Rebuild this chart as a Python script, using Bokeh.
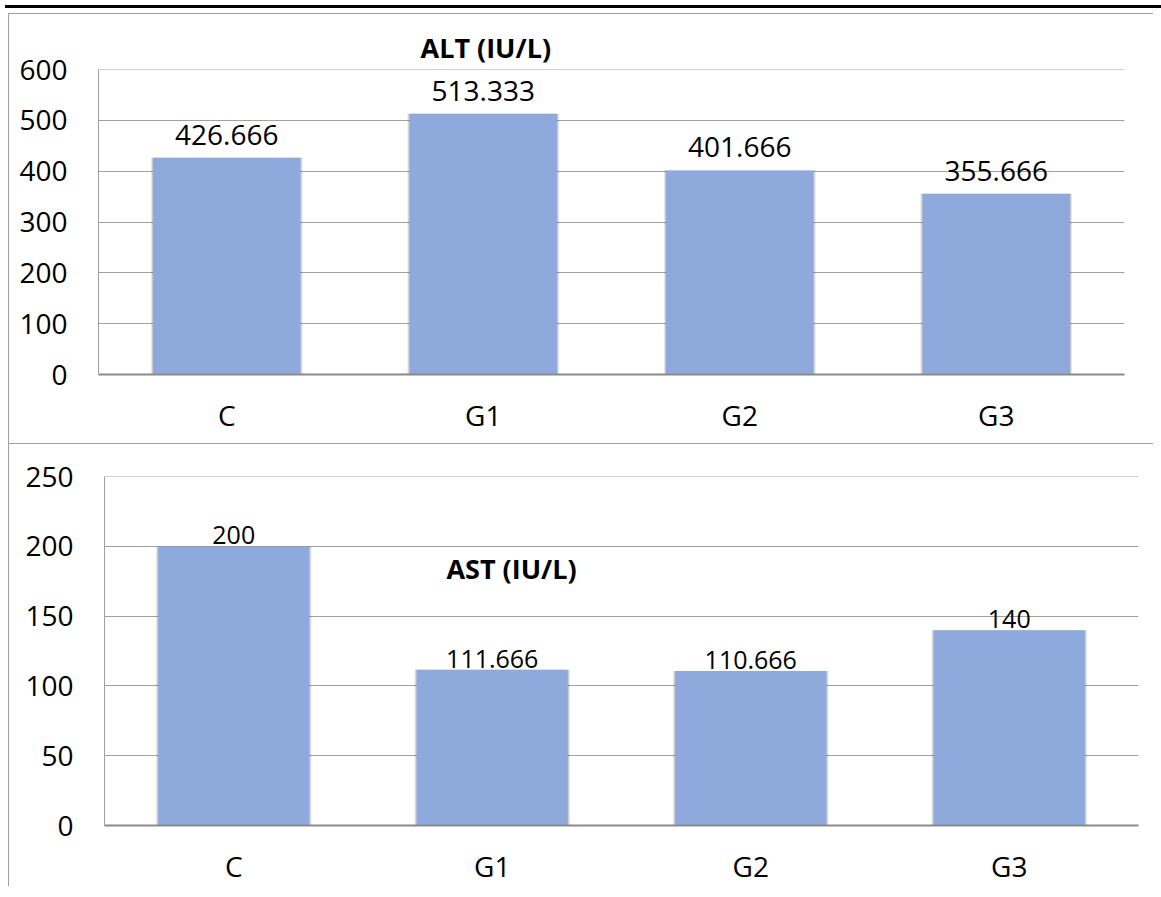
from bokeh.plotting import figure
from bokeh.models import ColumnDataSource, Label, Div, FixedTicker, Title
from bokeh.layouts import column
from bokeh.core.properties import value
from bokeh.embed import file_html
from bokeh.resources import INLINE

groups = ["C", "G1", "G2", "G3"]
alt_values = [426.666, 513.333, 401.666, 355.666]
ast_values = [200, 111.666, 110.666, 140]
alt_labels = ["426.666", "513.333", "401.666", "355.666"]
ast_labels = ["200", "111.666", "110.666", "140"]
alt_ticks = [0, 100, 200, 300, 400, 500, 600]
ast_ticks = [0, 50, 100, 150, 200, 250]
alt_title = "ALT  (IU/L)"
ast_title = "AST  (IU/L)"

BAR = "#8eaadc"
GRID = "#a0a0a0"
FONT = "Open Sans"
BORDER = {"border-left": "1px solid #a0a0a0", "border-top": "1px solid #a0a0a0"}


def make_panel(vals, labels, ticks, ymax, fw, fh, borders, bar_w,
               label_size, label_off):
    src = ColumnDataSource(dict(x=groups, top=vals, lab=labels))
    p = figure(x_range=groups, y_range=(0, ymax * 1.0005),
               frame_width=fw, frame_height=fh,
               output_backend="svg", toolbar_location=None,
               min_border_left=borders[0], min_border_right=borders[1],
               min_border_top=borders[2], min_border_bottom=borders[3],
               styles=BORDER)
    p.outline_line_color = None
    p.background_fill_color = "white"
    p.border_fill_color = "white"
    # soft shadow
    p.vbar(x="x", top="top", bottom=0, width=bar_w + 0.016, source=src,
           fill_color="black", fill_alpha=0.10, line_color=None)
    p.vbar(x="x", top="top", bottom=0, width=bar_w + 0.008, source=src,
           fill_color="black", fill_alpha=0.12, line_color=None)
    p.vbar(x="x", top="top", bottom=0, width=bar_w, source=src,
           fill_color=BAR, line_color=None)
    p.text(x="x", y="top", text="lab", source=src, text_align="center",
           text_baseline="alphabetic", y_offset=label_off,
           text_font=value(FONT), text_font_size=label_size,
           text_color="black")
    p.yaxis.ticker = FixedTicker(ticks=ticks)
    p.ygrid.ticker = FixedTicker(ticks=ticks)
    p.xgrid.grid_line_color = None
    p.ygrid.grid_line_color = GRID
    p.ygrid.grid_line_width = 1
    for ax in (p.xaxis, p.yaxis):
        ax.major_tick_line_color = None
        ax.minor_tick_line_color = None
        ax.major_label_text_font = FONT
        ax.major_label_text_font_size = "28px"
        ax.major_label_text_color = "black"
    p.yaxis.axis_line_color = GRID
    p.xaxis.axis_line_color = "#8a8a8a"
    p.xaxis.axis_line_width = 2
    p.yaxis.major_label_standoff = 25
    p.xaxis.major_label_standoff = 15
    return p


p1 = make_panel(alt_values, alt_labels, alt_ticks, 600, 1025, 304,
                (89, 30, 55, 70), 0.575, "28px", -23)
p1.title = Title(text=alt_title, align="left", offset=322, standoff=7,
                 text_font=FONT, text_font_size="27px",
                 text_font_style="bold", text_color="black")

p2 = make_panel(ast_values, ast_labels, ast_ticks, 250, 1033, 348,
                (95, 16, 32, 56), 0.585, "25px", -11)
p2.add_layout(Label(x=1.588, y=184, text=ast_title, text_align="center",
                    text_baseline="alphabetic", text_font=FONT,
                    text_font_size="27px", text_font_style="bold",
                    text_color="black"))

top_line = Div(text="", width=1160, height=3,
               styles={"background-color": "black"})

panels = column(column(p1), column(p2), spacing=0,
                styles={"margin-left": "8px"})
layout = column(top_line, panels, spacing=0)

open("out.html", "w").write(file_html(layout, INLINE))
